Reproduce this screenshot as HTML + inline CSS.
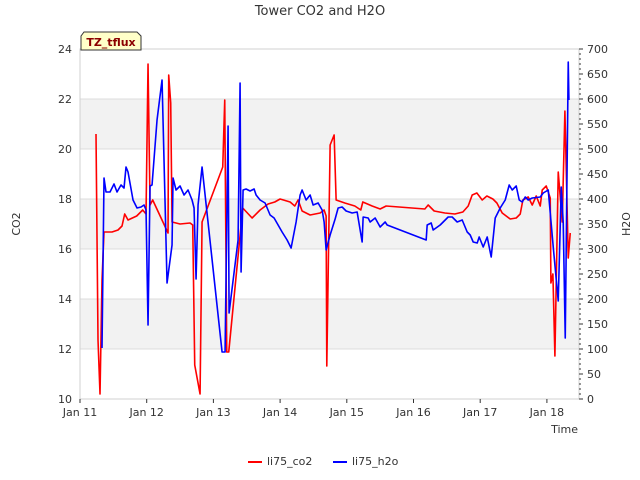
<!DOCTYPE html>
<html><head><meta charset="utf-8"><style>
body{margin:0;background:#fff;font-family:"DejaVu Sans","Liberation Sans",sans-serif}
svg{display:block}
</style></head><body>
<svg id="c" width="640" height="480" xmlns="http://www.w3.org/2000/svg"></svg>
<script>
const xTickLabels=["Jan 11","Jan 12","Jan 13","Jan 14","Jan 15","Jan 16","Jan 17","Jan 18"];
const co2Ticks=[10,12,14,16,18,20,22,24];
const h2oTicks=[0,50,100,150,200,250,300,350,400,450,500,550,600,650,700];
const co2Times=[.24,.27,.30,.33,.36,.48,.57,.63,.67,.72,.85,.94,.99,1.02,1.05,1.09,1.32,1.33,1.36,1.38,1.50,1.65,1.69,1.72,1.80,1.83,2.14,2.17,2.20,2.23,2.44,2.58,2.70,2.82,2.92,3.00,3.15,3.22,3.27,3.33,3.45,3.60,3.66,3.69,3.70,3.75,3.81,3.84,3.97,4.12,4.21,4.24,4.38,4.50,4.59,5.17,5.22,5.31,5.47,5.62,5.74,5.82,5.88,5.95,6.03,6.10,6.19,6.25,6.33,6.45,6.54,6.60,6.64,6.72,6.78,6.84,6.90,6.93,6.99,7.05,7.06,7.09,7.12,7.17,7.23,7.27,7.32,7.35];
const co2Values=[20.6,12.36,10.2,14.76,16.68,16.68,16.76,16.92,17.4,17.16,17.32,17.56,17.4,23.4,17.76,17.96,16.64,22.96,21.84,17.08,17.0,17.04,16.96,11.36,10.2,17.08,19.28,21.96,11.88,11.88,17.64,17.24,17.56,17.8,17.88,18.0,17.88,17.72,17.96,17.52,17.36,17.44,17.56,17.32,11.32,20.16,20.56,17.96,17.84,17.72,17.56,17.88,17.72,17.6,17.72,17.6,17.76,17.52,17.44,17.4,17.48,17.72,18.16,18.24,17.96,18.12,18.0,17.84,17.44,17.2,17.24,17.4,17.96,18.08,17.76,18.12,17.72,18.36,18.52,18.04,14.64,15.0,11.72,19.08,17.08,21.52,15.64,16.64];
const h2oTimes=[.33,.36,.39,.45,.51,.555,.615,.66,.69,.72,.795,.855,.915,.96,.99,1.02,1.05,1.08,1.155,1.23,1.305,1.38,1.395,1.44,1.5,1.56,1.62,1.68,1.71,1.74,1.77,1.83,2.13,2.175,2.22,2.235,2.37,2.40,2.415,2.445,2.49,2.55,2.61,2.64,2.70,2.775,2.85,2.91,2.97,3.03,3.105,3.165,3.24,3.30,3.33,3.39,3.45,3.495,3.57,3.63,3.66,3.69,3.75,3.825,3.87,3.93,3.99,4.08,4.155,4.23,4.245,4.32,4.35,4.425,4.5,4.575,4.605,5.19,5.205,5.265,5.295,5.40,5.52,5.58,5.655,5.73,5.805,5.85,5.895,5.955,5.985,6.045,6.105,6.165,6.225,6.30,6.375,6.435,6.48,6.54,6.585,6.63,6.675,6.72,6.78,6.90,6.945,7.02,7.095,7.17,7.215,7.245,7.275,7.32,7.33];
const h2oValues=[102,442,414,414,430,414,428,422,464,454,398,382,384,388,378,148,426,428,558,638,232,308,442,418,426,408,418,398,382,240,388,464,94,94,546,172,318,632,254,418,420,416,420,408,398,392,368,362,348,334,318,302,354,408,418,398,408,388,392,378,354,298,328,360,382,384,376,372,374,314,364,362,354,362,344,354,348,318,348,352,338,348,364,364,354,358,334,328,314,312,324,304,324,284,362,382,398,428,418,426,398,394,404,398,402,404,412,418,304,196,424,352,122,674,598];

const svg=document.getElementById('c');
const NS='http://www.w3.org/2000/svg';
const L=80,R=579,T=49,B=399;
const xs=d=>L+d*66.7;
const yL=v=>B-(v-10)*(B-T)/14;
const yR=v=>B-v*(B-T)/700;
function mk(tag,attrs,parent){const e=document.createElementNS(NS,tag);for(const k in attrs)e.setAttribute(k,attrs[k]);(parent||svg).appendChild(e);return e;}

// bands
[[12,14],[16,18],[20,22]].forEach(b=>{
 const r=mk('rect',{x:L,y:yL(b[1]),width:R-L,height:yL(b[0])-yL(b[1]),fill:'#f2f2f2'});
 
 
});
co2Ticks.forEach(v=>{
 const l=mk('line',{x1:L,x2:R,y1:yL(v),y2:yL(v),stroke:'#dcdcdc','stroke-width':1});
 
 
 const t=mk('text',{x:L-8,y:yL(v)+4,'text-anchor':'end','font-size':11,fill:'#333'});
 t.textContent=v;
 
 
});
mk('rect',{x:L,y:T,width:R-L,height:B-T,fill:'none',stroke:'#d0d0d0'});
h2oTicks.forEach(v=>{
 const t=mk('text',{x:R+8,y:yR(v)+4,'font-size':11,fill:'#333'});
 t.textContent=v;
 
 
});
for(let v=0;v<=700;v+=10){mk('line',{x1:R,x2:R+(v%50?2:4),y1:yR(v),y2:yR(v),stroke:'#333'});}
xTickLabels.forEach((s,i)=>{
 mk('line',{x1:xs(i),x2:xs(i),y1:B,y2:B+4,stroke:'#333'});
 const t=mk('text',{x:xs(i),y:B+17,'text-anchor':'middle','font-size':11,fill:'#333'});
 t.textContent=s;
 
 
});
function line(times,vals,yf,color,name){
 const p=mk('polyline',{points:times.map((t,i)=>xs(t)+','+yf(vals[i])).join(' '),fill:'none',stroke:color,'stroke-width':1.6,'stroke-linejoin':'round'});
 
 
}
line(co2Times,co2Values,yL,'#ff0000','li75-co2-line');
line(h2oTimes,h2oValues,yR,'#0000ff','li75-h2o-line');
</script>
<svg width="640" height="480" style="position:absolute;left:0;top:0">
<text x="320" y="15" text-anchor="middle" font-size="13" fill="#333">Tower CO2 and H2O</text>
<text x="20" y="224" text-anchor="middle" font-size="11" fill="#333" transform="rotate(-90 20 224)">CO2</text>
<text x="630" y="224" text-anchor="middle" font-size="11" fill="#333" transform="rotate(-90 630 224)">H2O</text>
<text x="578" y="433" text-anchor="end" font-size="11" fill="#333">Time</text>
<g>
<polygon points="84,32 137,32 141,36 141,50 81,50 81,36" fill="#ffffc8" stroke="#333"/>
<text x="111" y="46" text-anchor="middle" font-size="11" font-weight="bold" fill="#8b0000">TZ_tflux</text>
</g>
<g><line x1="248" x2="262" y1="462" y2="462" stroke="#ff0000" stroke-width="2"/><text x="267" y="465" font-size="11" fill="#333">li75_co2</text></g>
<g><line x1="333" x2="347" y1="462" y2="462" stroke="#0000ff" stroke-width="2"/><text x="352" y="465" font-size="11" fill="#333">li75_h2o</text></g>
</svg>
</body></html>
